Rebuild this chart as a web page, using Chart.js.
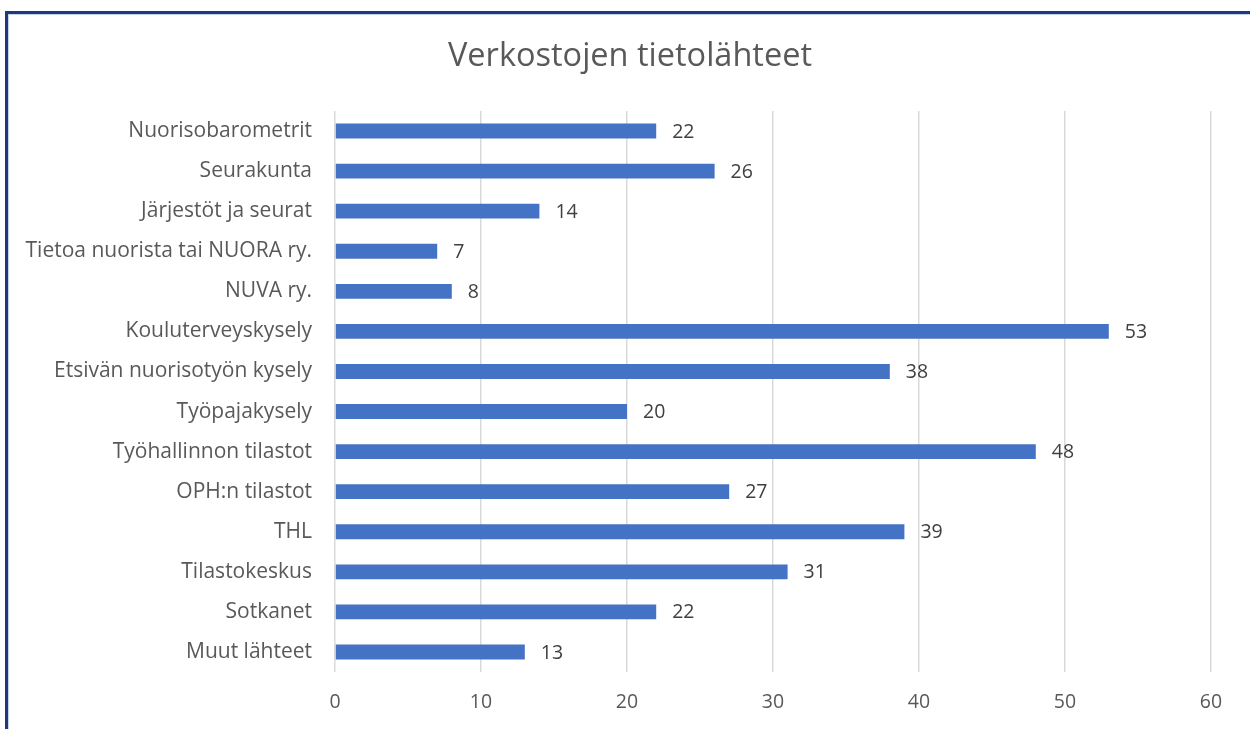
<!DOCTYPE html>
<html>
<head>
<meta charset="utf-8">
<script src="https://cdn.jsdelivr.net/npm/chart.js@4"></script>
<style>
  html, body { margin: 0; padding: 0; background: #fff; }
  #wrap { position: relative; width: 1250px; height: 729px; overflow: hidden; }
  #frame {
    position: absolute; left: 5px; top: 11px; width: 1300px; height: 800px;
    border-top: 3px solid #1f3a7a; border-left: 3px solid #1f3a7a;
    box-shadow: inset 1px 1px 0 #c9d3e8;
  }
  #chart { position: absolute; left: 0; top: 0; }
</style>
</head>
<body>
<div id="wrap">
  <div id="frame"></div>
  <canvas id="chart" width="1250" height="729"></canvas>
</div>
<script>
const titleText = "Verkostojen tietolähteet";
const categories = [
  "Nuorisobarometrit",
  "Seurakunta",
  "Järjestöt ja seurat",
  "Tietoa nuorista tai NUORA ry.",
  "NUVA ry.",
  "Kouluterveyskysely",
  "Etsivän nuorisotyön kysely",
  "Työpajakysely",
  "Työhallinnon tilastot",
  "OPH:n tilastot",
  "THL",
  "Tilastokeskus",
  "Sotkanet",
  "Muut lähteet"
];
const values = [22, 26, 14, 7, 8, 53, 38, 20, 48, 27, 39, 31, 22, 13];
const xTicks = [0, 10, 20, 30, 40, 50, 60];

const fontFamily = "'Open Sans', 'Noto Sans', sans-serif";

// title drawn by hand so it can sit centred on the framed box, not the canvas padding
const chartTitle = {
  id: "chartTitle",
  afterDraw(chart) {
    const ctx = chart.ctx;
    ctx.save();
    ctx.font = "32.5px " + fontFamily;
    ctx.fillStyle = "#595959";
    ctx.textAlign = "center";
    ctx.textBaseline = "middle";
    ctx.fillText(titleText, (chart.width + 10) / 2, 57);
    ctx.restore();
  }
};

// draws the value next to each bar
const valueLabels = {
  id: "valueLabels",
  afterDatasetsDraw(chart) {
    const ctx = chart.ctx;
    const meta = chart.getDatasetMeta(0);
    ctx.save();
    ctx.font = "19.5px " + fontFamily;
    ctx.fillStyle = "#404040";
    ctx.textAlign = "left";
    ctx.textBaseline = "middle";
    meta.data.forEach((bar, i) => {
      ctx.fillText(String(values[i]), bar.x + 16, bar.y + 1);
    });
    ctx.restore();
  }
};

new Chart(document.getElementById("chart"), {
  type: "bar",
  data: {
    labels: categories,
    datasets: [{
      data: values,
      backgroundColor: "#4472c4",
      borderWidth: 0,
      categoryPercentage: 1,
      barPercentage: 0.37
    }]
  },
  options: {
    indexAxis: "y",
    responsive: false,
    animation: false,
    layout: { padding: { left: 10, right: 39, top: 111, bottom: 0 } },
    plugins: {
      legend: { display: false },
      tooltip: { enabled: false },
      title: { display: false }
    },
    scales: {
      x: {
        min: 0,
        max: 60,
        afterBuildTicks: (scale) => { scale.ticks = xTicks.map(v => ({ value: v })); },
        afterFit: (scale) => { scale.height = 57; },
        grid: { color: "#d9d9d9", lineWidth: 1.5, drawTicks: false },
        border: { display: false },
        ticks: {
          color: "#595959",
          padding: 19,
          font: { family: fontFamily, size: 19.5 }
        }
      },
      y: {
        afterFit: (scale) => { scale.width = 325; },
        grid: { display: false, drawTicks: false },
        border: { display: false },
        ticks: {
          color: "#595959",
          padding: 23,
          font: { family: fontFamily, size: 21 }
        }
      }
    }
  },
  plugins: [valueLabels, chartTitle]
});
</script>
</body>
</html>
